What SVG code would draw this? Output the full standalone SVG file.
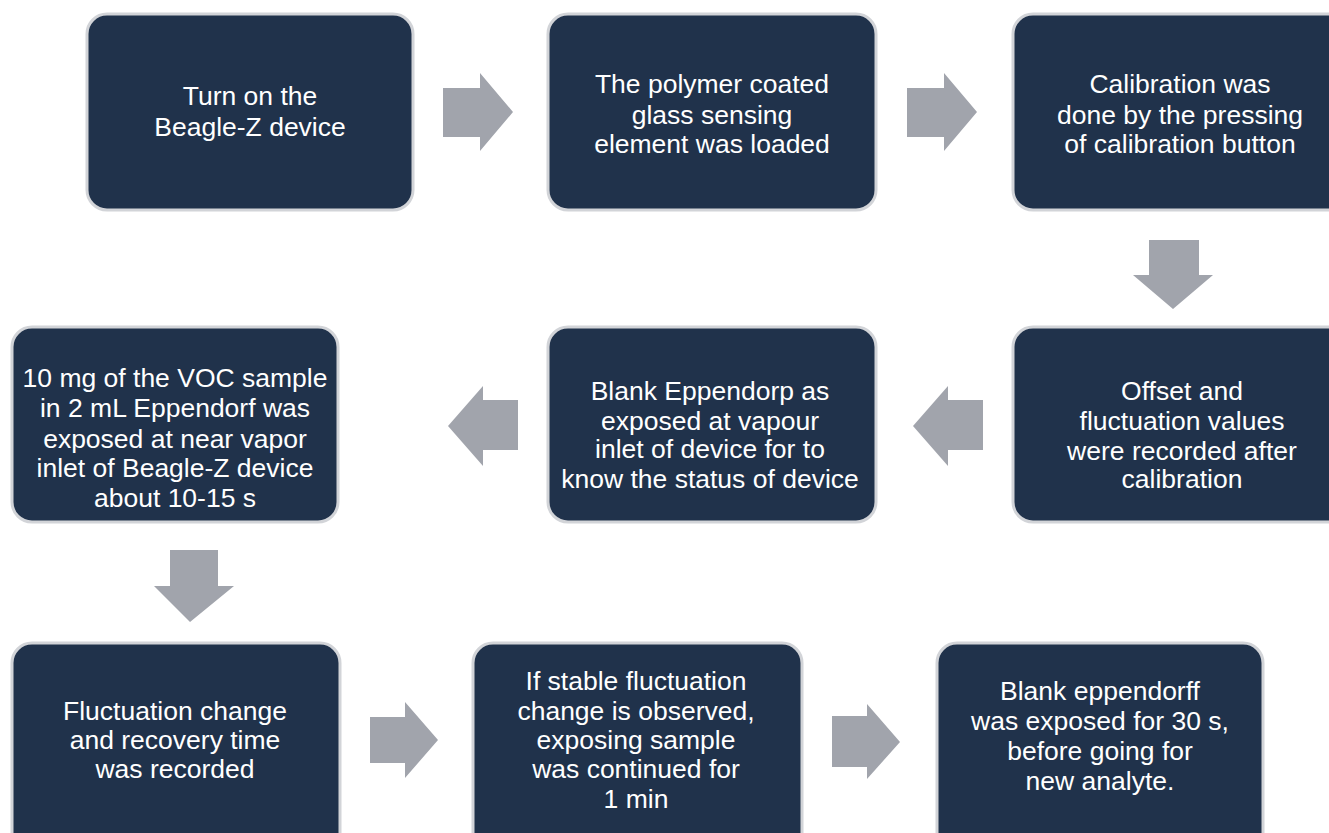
<svg xmlns="http://www.w3.org/2000/svg" width="1329" height="833" viewBox="0 0 1329 833">
<style>
.box{fill:#20324b;stroke:#d2d4d8;stroke-width:3}
.t{font-family:"Liberation Sans",Arial,Helvetica,sans-serif;font-size:26.5px;fill:#ffffff;text-anchor:middle}
.ar{fill:#a1a4ac}
</style>
<rect width="1329" height="833" fill="#ffffff"/>
<g id="connectors">
<polygon class="ar" points="443,88 480,88 480,73 513,112 480,151 480,137 443,137"/>
<polygon class="ar" points="907,88 944,88 944,73 977,112 944,151 944,137 907,137"/>
<polygon class="ar" points="1149,240 1199,240 1199,275 1213,275 1173,309 1133,275 1149,275"/>
<polygon class="ar" points="983,400 948,400 948,386 913,426 948,466 948,450 983,450"/>
<polygon class="ar" points="518,400 483,400 483,386 448,426 483,466 483,450 518,450"/>
<polygon class="ar" points="170,550 218,550 218,586 234,586 190,622 154,586 170,586"/>
<polygon class="ar" points="370,717 405,717 405,702 438,740 405,778 405,763 370,763"/>
<polygon class="ar" points="832,716 867,716 867,704 900,742 867,779 867,767 832,767"/>
</g>
<g id="n1">
<rect class="box" x="87" y="14" width="326" height="196" rx="20"/>
<text class="t"><tspan x="250" y="105">Turn on the</tspan><tspan x="250" y="136">Beagle-Z device</tspan></text>
</g>
<g id="n2">
<rect class="box" x="548" y="14" width="328" height="196" rx="20"/>
<text class="t"><tspan x="712" y="93">The polymer coated</tspan><tspan x="712" y="124">glass sensing</tspan><tspan x="712" y="153">element was loaded</tspan></text>
</g>
<g id="n3">
<rect class="box" x="1013" y="14" width="334" height="196" rx="20"/>
<text class="t"><tspan x="1180" y="93">Calibration was</tspan><tspan x="1180" y="124">done by the pressing</tspan><tspan x="1180" y="153">of calibration button</tspan></text>
</g>
<g id="n4">
<rect class="box" x="1013" y="327" width="334" height="195" rx="20"/>
<text class="t"><tspan x="1182" y="400">Offset and</tspan><tspan x="1182" y="430">fluctuation values</tspan><tspan x="1182" y="460">were recorded after</tspan><tspan x="1182" y="488">calibration</tspan></text>
</g>
<g id="n5">
<rect class="box" x="548" y="327" width="328" height="195" rx="20"/>
<text class="t"><tspan x="710" y="400">Blank Eppendorp as</tspan><tspan x="710" y="430">exposed at vapour</tspan><tspan x="710" y="458">inlet of device for to</tspan><tspan x="710" y="488">know the status of device</tspan></text>
</g>
<g id="n6">
<rect class="box" x="12" y="327" width="326" height="195" rx="20"/>
<text class="t"><tspan x="175" y="387">10 mg of the VOC sample</tspan><tspan x="175" y="417">in 2 mL Eppendorf was</tspan><tspan x="175" y="448">exposed at near vapor</tspan><tspan x="175" y="477">inlet of Beagle-Z device</tspan><tspan x="175" y="507">about 10-15 s</tspan></text>
</g>
<g id="n7">
<rect class="box" x="12" y="643" width="328" height="210" rx="20"/>
<text class="t"><tspan x="175" y="720">Fluctuation change</tspan><tspan x="175" y="749">and recovery time</tspan><tspan x="175" y="778">was recorded</tspan></text>
</g>
<g id="n8">
<rect class="box" x="473" y="643" width="329" height="210" rx="20"/>
<text class="t"><tspan x="636" y="690">If stable fluctuation</tspan><tspan x="636" y="720">change is observed,</tspan><tspan x="636" y="749">exposing sample</tspan><tspan x="636" y="778">was continued for</tspan><tspan x="636" y="808">1 min</tspan></text>
</g>
<g id="n9">
<rect class="box" x="937" y="643" width="326" height="210" rx="20"/>
<text class="t"><tspan x="1100" y="700">Blank eppendorff</tspan><tspan x="1100" y="730">was exposed for 30 s,</tspan><tspan x="1100" y="760">before going for</tspan><tspan x="1100" y="790">new analyte.</tspan></text>
</g>
</svg>
